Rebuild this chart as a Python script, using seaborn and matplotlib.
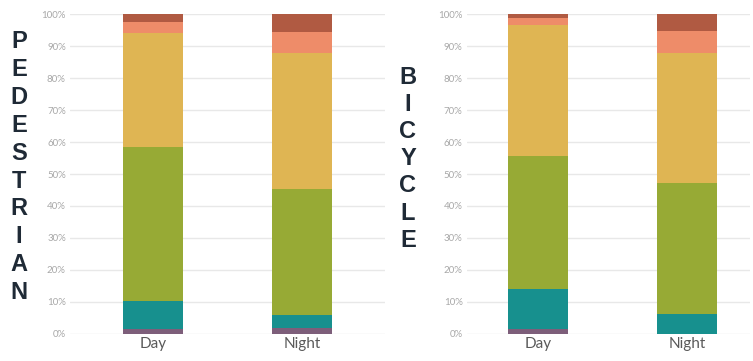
import numpy as np
import seaborn as sns
import matplotlib.pyplot as plt

# categories and stacked segment shares (percent), bottom -> top
periods = ["Day", "Night"]
segment_colors = ["#7d5e7a", "#17908e", "#97aa35", "#dfb553", "#ee8c69", "#b05a42"]

ped_purple = [1.5, 1.8]
ped_teal = [8.9, 4.1]
ped_green = [48.1, 39.3]
ped_yellow = [35.5, 42.6]
ped_salmon = [3.5, 6.6]
ped_brown = [2.5, 5.6]

bike_purple = [1.6, 0.0]
bike_teal = [12.4, 6.2]
bike_green = [41.7, 40.9]
bike_yellow = [40.8, 40.8]
bike_salmon = [2.3, 6.7]
bike_brown = [1.2, 5.4]

ytick_vals = list(range(0, 101, 10))
ytick_labels = [f"{v}%" for v in ytick_vals]

sns.set_theme(style="white")
plt.rcParams["font.family"] = ["Lato", "DejaVu Sans"]

fig = plt.figure(figsize=(7.53, 3.61), dpi=100)
ax1 = fig.add_axes([0.093, 0.075, 0.418, 0.886])
ax2 = fig.add_axes([0.620, 0.075, 0.376, 0.886])


def stacked(ax, segments, xlim):
    bottoms = np.zeros(len(periods))
    for vals, col in zip(segments, segment_colors):
        sns.barplot(x=periods, y=vals, bottom=bottoms, color=col, width=0.4,
                    linewidth=0, saturation=1, ax=ax, zorder=3)
        bottoms = bottoms + np.array(vals)
    ax.set_ylim(0, 100)
    ax.set_xlim(*xlim)
    ax.set_yticks(ytick_vals)
    ax.set_yticklabels(ytick_labels)
    ax.yaxis.grid(True, color="#e8e8e8", linewidth=1, zorder=0)
    ax.tick_params(axis="y", labelsize=7, colors="#a8a8a8", pad=3, length=0)
    ax.tick_params(axis="x", labelsize=11, colors="#5a5a5a", pad=2, length=0)
    ax.set_xlabel("")
    ax.set_ylabel("")
    sns.despine(ax=ax, left=True, bottom=True)


stacked(ax1, [ped_purple, ped_teal, ped_green, ped_yellow, ped_salmon, ped_brown],
        (-0.557, 1.557))
stacked(ax2, [bike_purple, bike_teal, bike_green, bike_yellow, bike_salmon, bike_brown],
        (-0.477, 1.42))

# stacked vertical side labels
side_font = ["Liberation Sans Narrow", "Liberation Sans", "DejaVu Sans"]
for i, ch in enumerate("PEDESTRIAN"):
    fig.text(19 / 753, 1 - (42 + i * 27.8) / 361, ch, ha="center", va="center",
             fontsize=17, fontweight="bold", color="#1f2a36", family=side_font)
for i, ch in enumerate("BICYCLE"):
    fig.text(408 / 753, 1 - (77 + i * 27.2) / 361, ch, ha="center", va="center",
             fontsize=17, fontweight="bold", color="#1f2a36", family=side_font)

fig.savefig("out.png", dpi=100)
